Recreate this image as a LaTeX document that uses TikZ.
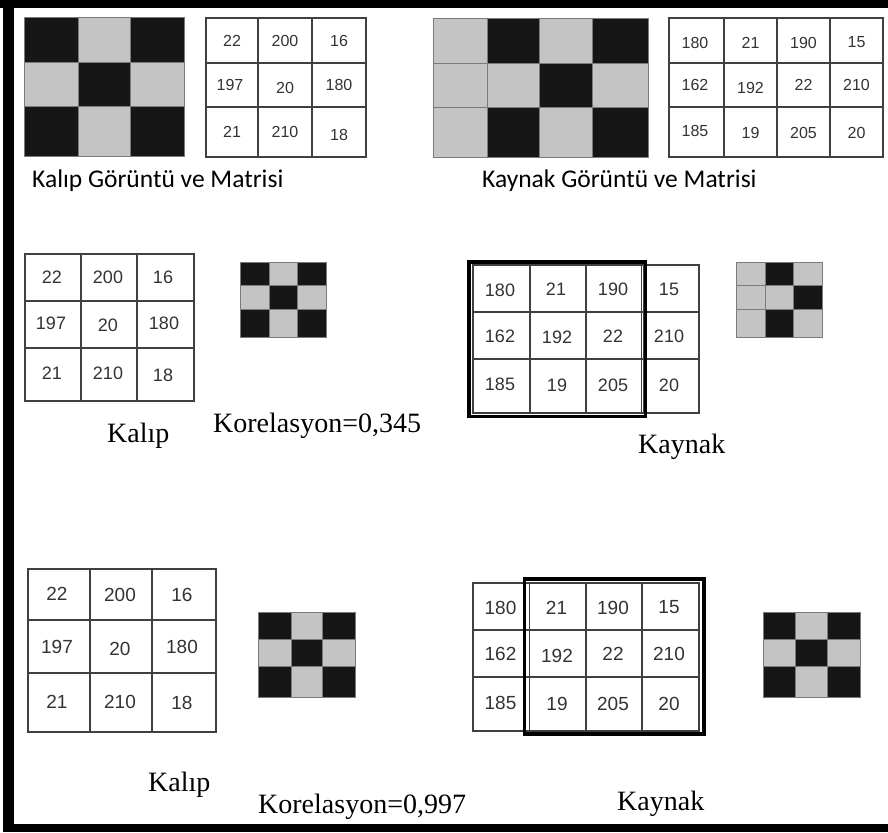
\documentclass[tikz,border=0pt]{standalone}
\usepackage{fontspec}
\setmainfont{Liberation Serif}
\newfontfamily\numfont{Liberation Sans}
\newfontfamily\capfont{Carlito}
\definecolor{dk}{HTML}{161616}
\definecolor{lg}{HTML}{C4C4C4}
\definecolor{gl}{HTML}{404040}
\definecolor{nc}{HTML}{333333}
\definecolor{pb}{HTML}{7A7A7A}
\tikzset{
  gridln/.style={draw=gl, line width=1.1pt},
  pcellst/.style={draw=pb, line width=0.8pt},
  numA/.style={font=\numfont\fontsize{16}{18}\selectfont, text=nc, inner sep=0pt},
  numB/.style={font=\numfont\fontsize{18}{20}\selectfont, text=nc, inner sep=0pt},
  numC/.style={font=\numfont\fontsize{19}{21}\selectfont, text=nc, inner sep=0pt},
  captxt/.style={font=\capfont\fontsize{25.5}{28}\selectfont, inner sep=0pt, anchor=base west},
  sertxt/.style={font=\fontsize{28}{30}\selectfont, inner sep=0pt, anchor=base west},
  thickframe/.style={draw=black, line width=3.6pt},
  thinframe/.style={draw=gl, line width=1pt},
}
\newcommand\mygrid[6]{%
  \draw[gridln] (#1,#3) rectangle (#2,#4);
  \foreach \xx in {#5} \draw[gridln] (\xx,#3) -- (\xx,#4);
  \foreach \yy in {#6} \draw[gridln] (#1,\yy) -- (#2,\yy);
}
\newcommand\pc[5]{\path[pcellst, fill=#5] (#1,#3) rectangle (#2,#4);}
\begin{document}
\begin{tikzpicture}[x=1pt,y=-1pt]
\useasboundingbox (0,0) rectangle (888,832);
\fill[white] (0,0) rectangle (888,832);
% outer frame
\fill[black] (0,0) rectangle (888,8);
\fill[black] (3,0) rectangle (14,832);
\fill[black] (3,824) rectangle (888,832);

% ---------- pattern 1 ----------
\foreach \xa/\xb/\c in {24/78/dk,78/130/lg,130/184/dk} \pc{\xa}{\xb}{17}{62}{\c};
\foreach \xa/\xb/\c in {24/78/lg,78/130/dk,130/184/lg} \pc{\xa}{\xb}{62}{106}{\c};
\foreach \xa/\xb/\c in {24/78/dk,78/130/lg,130/184/dk} \pc{\xa}{\xb}{106}{156}{\c};

% ---------- matrix 1 ----------
\mygrid{206}{366}{18}{157}{258,312}{63,107}
\node[numA] (a11) at (232,41) {22};
\node[numA] (a12) at (285,41) {200};
\node[numA] (a13) at (339,41) {16};
\node[numA] (a21) at (230,85) {197};
\node[numA] (a22) at (285,88) {20};
\node[numA] (a23) at (339,85) {180};
\node[numA] (a31) at (232,132) {21};
\node[numA] (a32) at (285,132) {210};
\node[numA] (a33) at (339,135) {18};

% ---------- pattern 2 ----------
\foreach \xa/\xb/\c in {433/487/lg,487/539/dk,539/592/lg,592/648/dk} \pc{\xa}{\xb}{18}{63}{\c};
\foreach \xa/\xb/\c in {433/487/lg,487/539/lg,539/592/dk,592/648/lg} \pc{\xa}{\xb}{63}{107}{\c};
\foreach \xa/\xb/\c in {433/487/lg,487/539/dk,539/592/lg,592/648/dk} \pc{\xa}{\xb}{107}{157}{\c};

% ---------- matrix 2 ----------
\mygrid{669}{883}{18}{157}{724,777,830}{63,107}
\node[numA] (b11) at (695,42.5) {180};
\node[numA] (b12) at (750.5,42.5) {21};
\node[numA] (b13) at (803.5,42.5) {190};
\node[numA] (b14) at (856.5,42.5) {15};
\node[numA] (b21) at (695,85) {162};
\node[numA] (b22) at (750.5,88) {192};
\node[numA] (b23) at (803.5,85) {22};
\node[numA] (b24) at (856.5,85) {210};
\node[numA] (b31) at (695,131) {185};
\node[numA] (b32) at (750.5,133) {19};
\node[numA] (b33) at (803.5,133) {205};
\node[numA] (b34) at (856.5,133) {20};

\node[captxt] (t1) at (32,187) {Kalıp Görüntü ve Matrisi};
\node[captxt] (t2) at (482,187) {Kaynak Görüntü ve Matrisi};

% ---------- matrix 3 ----------
\mygrid{25}{194}{254}{401}{81,137}{301,348}
\node[numB] (c11) at (52,277) {22};
\node[numB] (c12) at (108,277) {200};
\node[numB] (c13) at (163,277.5) {16};
\node[numB] (c21) at (51,323) {197};
\node[numB] (c22) at (108,325.5) {20};
\node[numB] (c23) at (164,323) {180};
\node[numB] (c31) at (52,373) {21};
\node[numB] (c32) at (108,373) {210};
\node[numB] (c33) at (163,375) {18};

% ---------- pattern 3 ----------
\foreach \xa/\xb/\c in {240/269/dk,269/297/lg,297/326/dk} \pc{\xa}{\xb}{262}{285}{\c};
\foreach \xa/\xb/\c in {240/269/lg,269/297/dk,297/326/lg} \pc{\xa}{\xb}{285}{309}{\c};
\foreach \xa/\xb/\c in {240/269/dk,269/297/lg,297/326/dk} \pc{\xa}{\xb}{309}{337}{\c};

\node[sertxt] (t3) at (107,442) {Kalıp};
\node[sertxt] (t4) at (213,432) {Korelasyon=0,345};

% ---------- matrix 4 ----------
\mygrid{473}{699}{265}{413}{530,586,644}{312,359}
\draw[thinframe] (473,265) rectangle (641,412);
\draw[thickframe] (468.7,262) rectangle (645.3,416.3);
\node[numB] (d11) at (500,290) {180};
\node[numB] (d12) at (556,289) {21};
\node[numB] (d13) at (613,289) {190};
\node[numB] (d14) at (669,289) {15};
\node[numB] (d21) at (500,336) {162};
\node[numB] (d22) at (557,337.5) {192};
\node[numB] (d23) at (613,336) {22};
\node[numB] (d24) at (669,336) {210};
\node[numB] (d31) at (500,384) {185};
\node[numB] (d32) at (557,385.5) {19};
\node[numB] (d33) at (613,385) {205};
\node[numB] (d34) at (669,385) {20};

% ---------- pattern 4 ----------
\foreach \xa/\xb/\c in {736/765/lg,765/793/dk,793/822/lg} \pc{\xa}{\xb}{262}{285}{\c};
\foreach \xa/\xb/\c in {736/765/lg,765/793/lg,793/822/dk} \pc{\xa}{\xb}{285}{309}{\c};
\foreach \xa/\xb/\c in {736/765/lg,765/793/dk,793/822/lg} \pc{\xa}{\xb}{309}{337}{\c};

\node[sertxt] (t5) at (638,453) {Kaynak};

% ---------- matrix 5 ----------
\mygrid{28}{216}{569}{732}{90,152}{620,673}
\node[numC] (e11) at (57,594) {22};
\node[numC] (e12) at (120,594.5) {200};
\node[numC] (e13) at (182,595) {16};
\node[numC] (e21) at (57,646.5) {197};
\node[numC] (e22) at (120,648.5) {20};
\node[numC] (e23) at (182,646.5) {180};
\node[numC] (e31) at (57,701.5) {21};
\node[numC] (e32) at (120,701.5) {210};
\node[numC] (e33) at (182,703) {18};

% ---------- pattern 5 ----------
\foreach \xa/\xb/\c in {258/291/dk,291/322/lg,322/355/dk} \pc{\xa}{\xb}{612}{639}{\c};
\foreach \xa/\xb/\c in {258/291/lg,291/322/dk,322/355/lg} \pc{\xa}{\xb}{639}{666}{\c};
\foreach \xa/\xb/\c in {258/291/dk,291/322/lg,322/355/dk} \pc{\xa}{\xb}{666}{697}{\c};

\node[sertxt] (t6) at (148,791) {Kalıp};
\node[sertxt] (t7) at (258,813) {Korelasyon=0,997};

% ---------- matrix 6 ----------
\mygrid{473}{699}{583}{731}{525,586,642}{630,677}
\draw[thinframe] (529,583) rectangle (699,731);
\draw[thickframe] (524.5,579) rectangle (704,734);
\node[numC] (f11) at (500.5,608) {180};
\node[numC] (f12) at (556.5,607.5) {21};
\node[numC] (f13) at (613,607.5) {190};
\node[numC] (f14) at (669,607.5) {15};
\node[numC] (f21) at (500.5,654) {162};
\node[numC] (f22) at (557,656) {192};
\node[numC] (f23) at (613,654) {22};
\node[numC] (f24) at (669,654) {210};
\node[numC] (f31) at (500.5,702.5) {185};
\node[numC] (f32) at (557,703.5) {19};
\node[numC] (f33) at (613,703.5) {205};
\node[numC] (f34) at (669,703.5) {20};

% ---------- pattern 6 ----------
\foreach \xa/\xb/\c in {763/795/dk,795/827/lg,827/860/dk} \pc{\xa}{\xb}{612}{639}{\c};
\foreach \xa/\xb/\c in {763/795/lg,795/827/dk,827/860/lg} \pc{\xa}{\xb}{639}{666}{\c};
\foreach \xa/\xb/\c in {763/795/dk,795/827/lg,827/860/dk} \pc{\xa}{\xb}{666}{697}{\c};

\node[sertxt] (t8) at (617,810) {Kaynak};
\end{tikzpicture}
\end{document}
